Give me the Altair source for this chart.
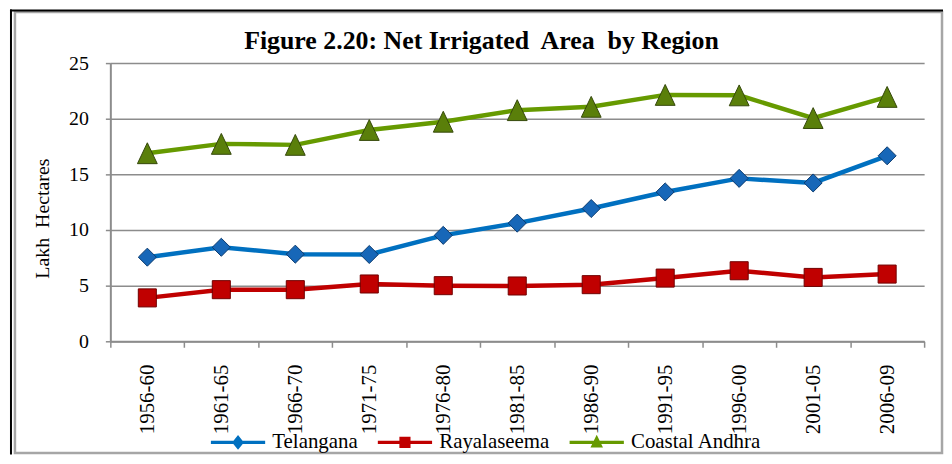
import altair as alt
import pandas as pd

periods = ["1956-60", "1961-65", "1966-70", "1971-75", "1976-80", "1981-85",
           "1986-90", "1991-95", "1996-00", "2001-05", "2006-09"]
telangana = [7.56, 8.45, 7.83, 7.80, 9.52, 10.62, 11.93, 13.42, 14.64, 14.23, 16.67]
rayalaseema = [3.90, 4.64, 4.64, 5.15, 5.00, 4.97, 5.09, 5.68, 6.34, 5.74, 6.04]
coastal_andhra = [16.90, 17.74, 17.65, 18.99, 19.73, 20.77, 21.07, 22.14, 22.10, 20.06, 21.96]
regions = ["Telangana", "Rayalaseema", "Coastal Andhra"]
y_ticks = [0, 5, 10, 15, 20, 25]

line_colors = ["#0070C0", "#C00000", "#669A00"]
marker_fills = ["#1767B8", "#C00000", "#5A7F0A"]
marker_strokes = ["#0B3A6E", "#700000", "#34480A"]
marker_shapes = ["diamond", "square", "M0,-1L0.95,1L-0.95,1Z"]
marker_sizes = [330, 330, 441]
legend_shapes = [
    "M-3.9,-0.22H3.9V0.22H-3.9Z M0,-1.05L0.85,0L0,1.05L-0.85,0Z",
    "M-3.9,-0.22H3.9V0.22H-3.9Z M-0.8,-0.8H0.8V0.8H-0.8Z",
    "M-3.9,-0.22H3.9V0.22H-3.9Z M0,-1.1L0.9,0.75L-0.9,0.75Z",
]

rows = []
for name, vals in zip(regions, [telangana, rayalaseema, coastal_andhra]):
    for p, v in zip(periods, vals):
        rows.append({"Period": p, "Region": name, "Value": v})
df = pd.DataFrame(rows)

W, H = 819, 280
SERIF = "Liberation Serif"
GRAY = "#8c8c8c"

x_enc = alt.X(
    "Period:N",
    sort=periods,
    bandPosition=0.5,
    scale=alt.Scale(type="band", domain=periods, paddingInner=0, paddingOuter=0),
    axis=alt.Axis(
        title=None, labelAngle=270, labelAlign="right", labelBaseline="middle",
        labelFont=SERIF, labelFontSize=21, labelColor="black", labelPadding=17,
        tickBand="extent", tickSize=6, tickColor=GRAY, tickWidth=1.5,
        domainColor=GRAY, domainWidth=2, grid=False,
    ),
)
y_enc = alt.Y(
    "Value:Q",
    scale=alt.Scale(domain=[0, 25], nice=False, zero=True),
    axis=alt.Axis(
        values=y_ticks, grid=True, gridColor=GRAY, gridWidth=1.5,
        domainColor=GRAY, domainWidth=2, tickColor=GRAY, tickSize=5, tickWidth=1.5,
        labelFont=SERIF, labelFontSize=20, labelColor="black", labelPadding=17,
        title="Lakh\u00a0 Hectares", titleFont=SERIF, titleFontSize=20,
        titleFontWeight="normal", titleColor="black", titleAngle=270,
        titleAlign="center", titleBaseline="middle", titleX=-68, titleY=156,
    ),
)
color_scale = alt.Scale(domain=regions, range=line_colors)

base = alt.Chart(df)

line_layers = []
marker_layers = []
for name, lc, shp, sz, fc, sc in zip(regions, line_colors, marker_shapes, marker_sizes,
                                     marker_fills, marker_strokes):
    sub = base.transform_filter(alt.datum.Region == name)
    line_layers.append(sub.mark_line(strokeWidth=4.5, color=lc).encode(x=x_enc, y=y_enc))
    marker_layers.append(
        sub.mark_point(shape=shp, size=sz, filled=True, fill=fc, stroke=sc,
                       strokeWidth=1, opacity=1)
        .encode(x=x_enc, y=y_enc)
    )

legend_props = dict(
    title=None, orient="none", legendX=118, legendY=371, direction="horizontal",
    labelFont=SERIF, labelFontSize=21, labelColor="black",
    symbolSize=196, symbolStrokeWidth=0, symbolOpacity=1,
    labelOffset=24, columnPadding=20, padding=0,
)
legend_layer = base.mark_point(filled=True, opacity=0).encode(
    x=x_enc, y=y_enc,
    color=alt.Color("Region:N", scale=color_scale, legend=alt.Legend(**legend_props)),
    shape=alt.Shape("Region:N", scale=alt.Scale(domain=regions, range=legend_shapes),
                    legend=alt.Legend(**legend_props)),
)

frame_base = alt.Chart(pd.DataFrame({"k": [0]}))
left_black = frame_base.mark_rule(color="black", strokeWidth=2).encode(
    x=alt.value(-100), y=alt.value(-54), y2=alt.value(394))
top_black = frame_base.mark_rule(color="black", strokeWidth=2).encode(
    x=alt.value(-101), x2=alt.value(838), y=alt.value(-53))
gray_rect = frame_base.mark_rect(fillOpacity=0, stroke="#a6a6a6", strokeWidth=2.5).encode(
    x=alt.value(-96), x2=alt.value(837), y=alt.value(-51.5), y2=alt.value(392.5))

chart = alt.layer(
    gray_rect, left_black, top_black, *line_layers, *marker_layers, legend_layer
).properties(
    width=W, height=H,
    autosize=alt.AutoSizeParams(type="none"),
    padding={"left": 103, "top": 54, "right": 20, "bottom": 114},
    background="white",
    title=alt.TitleParams(
        "Figure 2.20: Net Irrigated\u00a0 Area\u00a0 by Region",
        font=SERIF, fontSize=26, fontWeight="bold", color="black",
        anchor="middle", frame="group", dx=-36, baseline="alphabetic", offset=-67,
    ),
).configure_view(strokeWidth=0)

chart.save("out.html", embed_options={"renderer": "svg", "actions": False})
